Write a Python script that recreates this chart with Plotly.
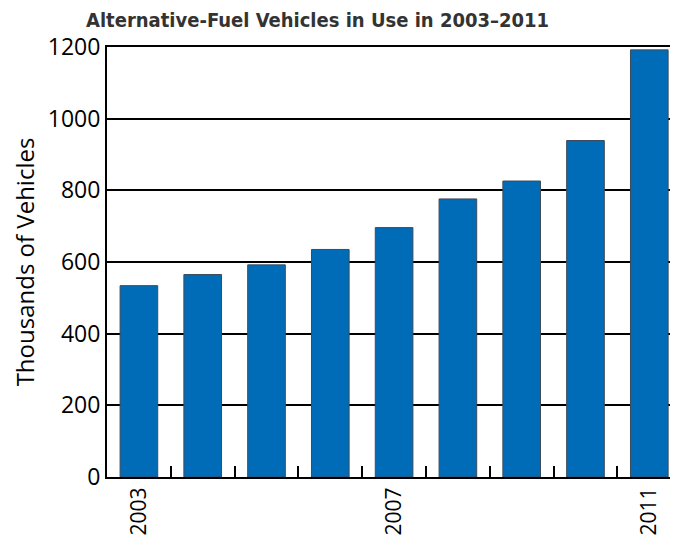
import plotly.graph_objects as go

# Alternative-fuel vehicles in use, thousands
years = [2003, 2004, 2005, 2006, 2007, 2008, 2009, 2010, 2011]
vehicles = [534, 565, 592, 635, 696, 776, 826, 939, 1192]
year_labels = ["2003", "2007", "2011"]
label_years = [2003, 2007, 2011]
y_ticks = [0, 200, 400, 600, 800, 1000, 1200]

# page body has an 8px margin, so the figure is a bit smaller than the window
W, H = 670, 535

fig = go.Figure()

fig.add_trace(go.Bar(
    x=years,
    y=vehicles,
    width=0.59,
    marker=dict(color="#006cb7", line=dict(color="#3b4b5c", width=1)),
    hovertemplate="%{x}: %{y}k<extra></extra>",
))

fig.update_layout(
    width=W,
    height=H,
    margin=dict(l=99, r=0, t=39, b=66),
    paper_bgcolor="white",
    plot_bgcolor="white",
    showlegend=False,
    title=dict(
        text="Alternative-Fuel Vehicles in Use in 2003\u20132011",
        x=78 / W, xanchor="left", xref="container",
        y=1 - 12 / H, yanchor="middle", yref="container",
        font=dict(family="DejaVu Sans Condensed, Roboto, sans-serif", size=20,
                  weight="bold", color="#333333"),
    ),
)

fig.update_xaxes(
    range=[2002.5, 2011.45],
    tickvals=label_years,
    ticktext=year_labels,
    tickangle=-90,
    ticks="",
    automargin=False,
    tickfont=dict(family="Open Sans, sans-serif", size=21, color="black"),
    showgrid=False,
    showline=True,
    linecolor="black",
    linewidth=2,
    mirror=True,
    minor=dict(
        tickvals=[y + 0.5 for y in years[:-1]],
        ticks="inside",
        ticklen=11,
        tickwidth=2,
        tickcolor="black",
        showgrid=False,
    ),
)

fig.update_yaxes(
    range=[0, 1200],
    tickvals=y_ticks,
    ticks="",
    automargin=False,
    tickfont=dict(family="Open Sans, sans-serif", size=23, color="black"),
    showgrid=True,
    gridcolor="black",
    gridwidth=2,
    zeroline=False,
    showline=True,
    linecolor="black",
    linewidth=2,
    title=dict(
        text="Thousands of Vehicles",
        font=dict(family="Open Sans, sans-serif", size=24, color="black"),
        standoff=12,
    ),
)

fig.write_html("out.html")
